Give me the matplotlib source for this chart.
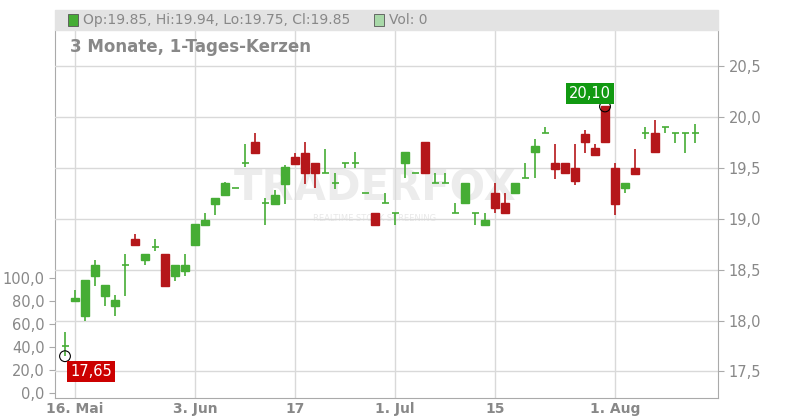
import matplotlib
matplotlib.use("Agg")
import matplotlib.pyplot as plt
from matplotlib.patches import Rectangle

opens  = [17.75,18.19,18.04,18.44,18.24,18.14,18.54,18.80,18.59,18.72,18.65,18.44,18.49,18.74,18.94,19.14,19.23,19.30,19.55,19.75,19.15,19.14,19.34,19.60,19.64,19.55,19.45,19.35,19.55,19.55,19.25,19.05,19.15,19.05,19.55,19.45,19.75,19.35,19.35,19.05,19.15,19.05,18.94,19.25,19.15,19.25,19.40,19.65,19.84,19.55,19.55,19.50,19.83,19.69,20.10,19.50,19.30,19.50,19.84,19.84,19.90,19.84,19.84,19.84]
closes = [17.75,18.22,18.40,18.54,18.35,18.20,18.54,18.74,18.65,18.72,18.34,18.54,18.54,18.95,18.99,19.20,19.35,19.30,19.55,19.64,19.15,19.23,19.51,19.54,19.45,19.45,19.45,19.35,19.55,19.55,19.25,18.94,19.15,19.05,19.65,19.45,19.45,19.35,19.35,19.05,19.35,19.05,18.99,19.10,19.05,19.35,19.40,19.71,19.84,19.49,19.45,19.37,19.75,19.62,19.75,19.14,19.35,19.44,19.84,19.65,19.90,19.84,19.84,19.84]
highs  = [17.89,18.30,18.40,18.59,18.35,18.25,18.65,18.85,18.65,18.80,18.65,18.54,18.65,18.95,19.05,19.20,19.36,19.30,19.73,19.84,19.20,19.28,19.53,19.64,19.75,19.55,19.68,19.45,19.55,19.65,19.25,19.05,19.25,19.05,19.65,19.45,19.75,19.45,19.45,19.15,19.35,19.05,19.05,19.35,19.25,19.35,19.55,19.78,19.90,19.73,19.55,19.73,19.87,19.73,20.10,19.55,19.35,19.68,19.90,19.97,19.90,19.84,19.84,19.93]
lows   = [17.65,18.18,18.00,18.34,18.14,18.04,18.24,18.74,18.54,18.68,18.34,18.39,18.44,18.74,18.94,19.04,19.23,19.30,19.51,19.64,18.94,19.14,19.14,19.54,19.34,19.30,19.45,19.29,19.50,19.50,19.25,18.94,19.15,18.94,19.40,19.45,19.45,19.35,19.35,19.05,19.15,18.94,18.99,19.05,19.05,19.25,19.40,19.40,19.84,19.39,19.45,19.33,19.64,19.62,19.75,19.04,19.25,19.44,19.78,19.65,19.84,19.74,19.64,19.74]
tick_idx = [1, 13, 23, 33, 43, 55]
tick_labels = ["16. Mai", "3. Jun", "17", "1. Jul", "15", "1. Aug"]
price_ticks = [17.5, 18.0, 18.5, 19.0, 19.5, 20.0, 20.5]
vol_ticks = [0, 20, 40, 60, 80, 100]

GREEN = "#46ad35"; RED = "#b5171a"; GRID = "#d9d9d9"; TXT = "#888888"
fig = plt.figure(figsize=(8, 4.2), dpi=100)
ax = fig.add_axes([55/800, 22/420, 663/800, 368/420])
ax.set_facecolor("white")

# volume axis (left)
ax2 = ax.twinx()
ax2.set_zorder(0); ax.set_zorder(1); ax.patch.set_visible(False)
ax2.yaxis.tick_left(); ax2.yaxis.set_label_position("left")
ax2.set_ylim(-4.3, 314.7)
ax2.set_yticks(vol_ticks)
ax2.set_yticklabels([f"{v:.1f}".replace(".", ",") for v in vol_ticks], fontsize=10.5, color=TXT)
ax2.tick_params(length=4, color="#aaaaaa")
for s in ["top", "right", "bottom"]:
    ax2.spines[s].set_visible(False)
ax2.spines["left"].set_color("#aaaaaa")

n = len(opens)
for i in range(n):
    c = GREEN if closes[i] >= opens[i] else RED
    ax.vlines(i, lows[i], highs[i], color=c, lw=1.2, zorder=3)
    lo, hi = min(opens[i], closes[i]), max(opens[i], closes[i])
    if hi - lo < 0.02:
        ax.hlines(opens[i], i - 0.35, i + 0.35, color=c, lw=1.2, zorder=3)
    else:
        ax.add_patch(Rectangle((i - 0.37, lo), 0.74, hi - lo, color=c, zorder=3))
ax.set_xlim(-1.0, 65.3)
ax.set_ylim(17.24, 20.85)
ax.set_xticks(tick_idx); ax.set_xticklabels(tick_labels, fontsize=10, color=TXT, fontweight="bold")
ax.yaxis.tick_right(); ax.yaxis.set_label_position("right")
ax.set_yticks(price_ticks)
ax.set_yticklabels([f"{v:.1f}".replace(".", ",") for v in price_ticks], fontsize=10.5, color=TXT)
ax.grid(True, color=GRID, lw=1)
ax.tick_params(axis="y", length=4, color="#aaaaaa")
ax.tick_params(axis="x", length=0, pad=3)
for s in ["top", "left"]:
    ax.spines[s].set_visible(False)
ax.spines["right"].set_color("#aaaaaa"); ax.spines["bottom"].set_color("#aaaaaa")

# watermark
ax.text(31, 19.30, "TRADERFOX", fontsize=30, fontweight="bold", color="#ececec",
        ha="center", va="center", zorder=1)
ax.text(31, 19.0, "REALTIME STOCK SCREENING", fontsize=6, color="#e8e8e8", ha="center", va="center", zorder=1)

# annotations
ax.scatter([0], [lows[0]], s=60, facecolor="none", edgecolor="black", lw=0.8, zorder=5)
ax.text(0.5, lows[0] - 0.08, "17,65", color="white", fontsize=10.5, va="top", ha="left",
        bbox=dict(boxstyle="square,pad=0.2", fc="#cc0000", ec="none"), zorder=6)
ax.scatter([54], [highs[54]], s=60, facecolor="none", edgecolor="black", lw=0.8, zorder=5)
ax.text(52.5, highs[54] + 0.05, "20,10", color="white", fontsize=10.5, va="bottom", ha="center",
        bbox=dict(boxstyle="square,pad=0.2", fc="#119911", ec="none"), zorder=6)

# header
fig.patches.append(Rectangle((55/800, 390/420), 663/800, 20/420, transform=fig.transFigure, color="#e3e3e3"))
fig.patches.append(Rectangle((68/800, 394/420), 10/800, 12/420, transform=fig.transFigure, fc=GREEN, ec="#555555", lw=0.6))
fig.text(83/800, 400/420, "Op:19.85, Hi:19.94, Lo:19.75, Cl:19.85", fontsize=10, color=TXT, va="center")
fig.patches.append(Rectangle((374/800, 394/420), 10/800, 12/420, transform=fig.transFigure, fc="#a8d8a8", ec="#555555", lw=0.6))
fig.text(389/800, 400/420, "Vol: 0", fontsize=10, color=TXT, va="center")
fig.text(70/800, 373/420, "3 Monate, 1-Tages-Kerzen", fontsize=12, color=TXT, fontweight="bold", va="center")
fig.savefig("out.png", dpi=100, facecolor="white")
